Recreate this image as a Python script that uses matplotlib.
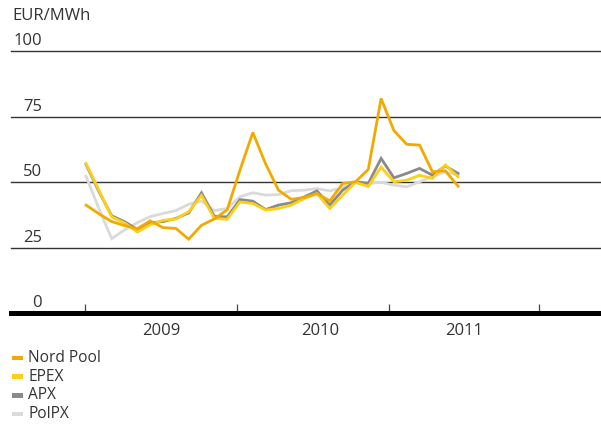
import matplotlib
matplotlib.use("Agg")
import matplotlib.pyplot as plt
from matplotlib.patches import Rectangle
import numpy as np

# ---- data (monthly, Jan 2009 - Jun 2011), EUR/MWh ----
series_names = ["Nord Pool", "EPEX", "APX", "PolPX"]
nord_pool = [41.3, 38.0, 35.0, 33.5, 32.3, 35.3, 32.7, 32.4, 28.3, 33.6, 36.0, 39.5,
             54.7, 69.0, 57.0, 47.0, 43.5, 44.2, 45.7, 42.9, 49.5, 50.2, 54.9, 82.0,
             69.7, 64.5, 64.2, 54.0, 54.4, 48.5]
epex = [57.2, 47.0, 36.8, 34.5, 31.0, 33.8, 35.5, 36.0, 38.8, 45.0, 36.2, 35.9,
        42.5, 41.9, 39.4, 40.0, 41.3, 43.8, 45.7, 40.0, 45.1, 50.0, 48.4, 55.8,
        50.2, 50.8, 52.7, 51.5, 56.6, 52.1]
apx = [56.8, 46.5, 37.2, 35.0, 32.0, 34.5, 35.0, 36.2, 38.3, 46.0, 37.0, 36.8,
       43.4, 42.8, 39.6, 41.3, 42.2, 44.4, 46.7, 41.3, 47.0, 50.2, 49.6, 59.1,
       51.7, 53.4, 55.3, 52.7, 56.2, 53.4]
polpx = [52.3, 40.0, 28.5, 31.8, 34.6, 36.9, 38.1, 39.2, 41.6, 42.8, 39.2, 40.0,
         44.5, 46.0, 45.1, 45.3, 46.8, 47.0, 47.6, 46.7, 48.0, 49.8, 49.5, 50.0,
         48.9, 48.3, 50.2, 52.1, 54.0, 52.7]
year_labels = ["2009", "2010", "2011"]
y_ticks = [0, 25, 50, 75, 100]

months = np.arange(len(nord_pool))

colors = {"Nord Pool": "#F2A900", "EPEX": "#FDD017", "APX": "#8A8A8A", "PolPX": "#DADADA"}
values = {"Nord Pool": nord_pool, "EPEX": epex, "APX": apx, "PolPX": polpx}

plt.rcParams['font.family'] = ['Open Sans', 'DejaVu Sans']
TXT = "#333333"

W, H = 601, 424
fig = plt.figure(figsize=(W / 100, H / 100), dpi=100)
y0_px, y100_px = 313.3, 51.3
ax = fig.add_axes([11 / W, (H - y0_px) / H, 590 / W, (y0_px - y100_px) / H])
ax.set_xlim(-5.85, 40.14)
ax.set_ylim(0, 100)
ax.patch.set_alpha(0)

# gridlines
for v in y_ticks[1:]:
    ax.axhline(v, color="#333333", lw=1.0, zorder=1, clip_on=False)

# series (PolPX at the bottom, Nord Pool on top)
for z, name in enumerate(["PolPX", "APX", "EPEX", "Nord Pool"]):
    ax.plot(months, values[name], color=colors[name], lw=2.0, zorder=3 + z,
            solid_joinstyle="miter")

# spines
for s in ["top", "right", "left"]:
    ax.spines[s].set_visible(False)
ax.spines["bottom"].set_linewidth(3.6)
ax.spines["bottom"].set_color("black")
ax.spines["bottom"].set_zorder(10)

# ticks: year boundaries (major), year labels (minor)
ax.set_xticks([-0.08, 11.77, 23.62, 35.31])
ax.set_xticklabels([])
ax.tick_params(axis="x", which="major", direction="in", length=6.5, width=0.9,
               color="#444444")
ax.set_xticks([5.85, 18.24, 29.46], minor=True)
ax.set_xticklabels(year_labels, minor=True)
ax.tick_params(axis="x", which="minor", length=0, pad=7, labelsize=12,
               labelcolor=TXT)
ax.set_yticks([])

# y labels above the gridlines, right aligned
for v in y_ticks:
    ax.annotate(str(v), xy=(42 / W, v), xycoords=("figure fraction", "data"),
                xytext=(0, 4.2), textcoords="offset points", ha="right",
                va="baseline", fontsize=12, color=TXT)

fig.text(12 / W, 1 - 15.5 / H, "EUR/MWh", ha="left", va="center",
         fontsize=12, color=TXT)

# legend
for i, name in enumerate(series_names):
    yc = 358 + 18.67 * i
    fig.patches.append(Rectangle((12 / W, 1 - (yc + 2.3) / H), 11 / W, 4.6 / H,
                                 transform=fig.transFigure, color=colors[name],
                                 lw=0))
    fig.text(28 / W, 1 - yc / H, name, ha="left", va="center",
             fontsize=11.2, color=TXT)

fig.savefig("out.png", dpi=100)
